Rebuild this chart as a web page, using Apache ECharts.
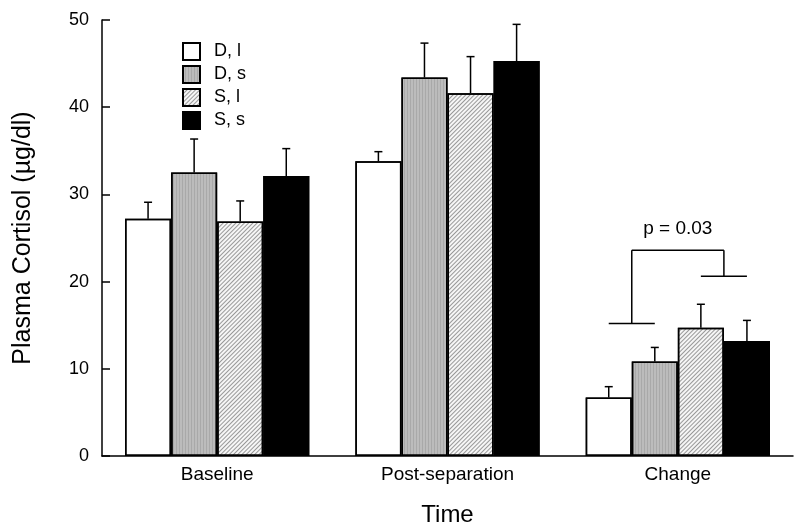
<!DOCTYPE html>
<html>
<head>
<meta charset="utf-8">
<script src="https://cdn.jsdelivr.net/npm/echarts@6/dist/echarts.min.js"></script>
<style>
html,body{margin:0;padding:0;background:#fff;}
#chart{width:800px;height:532px;}
</style>
</head>
<body>
<div id="chart"></div>
<script>
// ---- data ----
var categories = ['Baseline', 'Post-separation', 'Change'];
var seriesNames = ['D, l', 'D, s', 'S, l', 'S, s'];
var meanDl = [27.2, 33.8, 6.7];
var meanDs = [32.5, 43.4, 10.85];
var meanSl = [26.9, 41.6, 14.7];
var meanSs = [32.1, 45.3, 13.2];
var errDl = [1.9, 1.1, 1.25];
var errDs = [3.85, 3.95, 1.6];
var errSl = [2.35, 4.2, 2.7];
var errSs = [3.15, 4.2, 2.35];
var yTicks = [0, 10, 20, 30, 40, 50];
// significance bracket on the "Change" group
var bracketCategory = 2;
var bracketLeftLevel = 15.2;
var bracketTopLevel = 23.6;
var bracketRightLevel = 20.6;
var bracketLabel = 'p = 0.03';
var bracketLabelLevel = 26.1;

var means = [meanDl, meanDs, meanSl, meanSs];
var errs = [errDl, errDs, errSl, errSs];

var FONT = '"Liberation Sans", Arial, sans-serif';
var nSeries = seriesNames.length;
var catFill = 0.8; // bars cover 80% of category band

var styles = [
  { color: '#ffffff', decal: { symbol: 'none' } },
  { color: '#bcbcbc', decal: { symbol: 'rect', symbolSize: 1, dashArrayX: [1, 0], dashArrayY: [1, 2], rotation: Math.PI / 2, color: 'rgba(0,0,0,0.1)' } },
  { color: '#f6f6f6', decal: { symbol: 'rect', symbolSize: 1, dashArrayX: [1, 0], dashArrayY: [1, 2], rotation: -Math.PI / 4, color: 'rgba(0,0,0,0.38)' } },
  { color: '#000000', decal: { symbol: 'none' } }
];

var series = [];
seriesNames.forEach(function (name, i) {
  series.push({
    name: name,
    type: 'bar',
    data: means[i],
    barGap: '0%',
    barCategoryGap: '20%',
    itemStyle: {
      color: styles[i].color,
      borderColor: '#000',
      borderWidth: 1.5,
      decal: styles[i].decal
    },
    emphasis: { disabled: true },
    z: 2
  });
});

function offsetFor(api, idx) {
  var band = api.size([1, 0])[0];
  var bw = band * catFill / nSeries;
  return { bw: bw, off: (idx - (nSeries - 1) / 2) * bw };
}

seriesNames.forEach(function (name, i) {
  var d = means[i].map(function (m, k) { return [k, m, errs[i][k]]; });
  series.push({
    type: 'custom',
    data: d,
    encode: { x: 0, y: 1 },
    z: 5,
    silent: true,
    renderItem: function (params, api) {
      var c = api.coord([api.value(0), api.value(1)]);
      var t = api.coord([api.value(0), api.value(1) + api.value(2)]);
      var o = offsetFor(api, i);
      var x = c[0] + o.off;
      var st = { stroke: '#000', lineWidth: 1.5 };
      return {
        type: 'group',
        children: [
          { type: 'line', shape: { x1: x, y1: c[1], x2: x, y2: t[1] }, style: st },
          { type: 'line', shape: { x1: x - 4, y1: t[1], x2: x + 4, y2: t[1] }, style: st }
        ]
      };
    }
  });
});

series.push({
  type: 'custom',
  data: [[bracketCategory, bracketLeftLevel, bracketTopLevel, bracketRightLevel, bracketLabelLevel]],
  encode: { x: 0, y: [1, 2, 3, 4] },
  z: 5,
  silent: true,
  renderItem: function (params, api) {
    var cat = api.value(0);
    var cx = api.coord([cat, 0])[0];
    var centers = [0, 1, 2, 3].map(function (j) { return cx + offsetFor(api, j).off; });
    var yL = api.coord([cat, api.value(1)])[1];
    var yT = api.coord([cat, api.value(2)])[1];
    var yR = api.coord([cat, api.value(3)])[1];
    var yP = api.coord([cat, api.value(4)])[1];
    var m1 = (centers[0] + centers[1]) / 2;
    var m2 = (centers[2] + centers[3]) / 2;
    var st = { stroke: '#000', lineWidth: 1.5 };
    return {
      type: 'group',
      children: [
        { type: 'line', shape: { x1: centers[0], y1: yL, x2: centers[1], y2: yL }, style: st },
        { type: 'line', shape: { x1: m1, y1: yL, x2: m1, y2: yT }, style: st },
        { type: 'line', shape: { x1: m1, y1: yT, x2: m2, y2: yT }, style: st },
        { type: 'line', shape: { x1: m2, y1: yT, x2: m2, y2: yR }, style: st },
        { type: 'line', shape: { x1: centers[2], y1: yR, x2: centers[3], y2: yR }, style: st },
        { type: 'text', x: (m1 + m2) / 2, y: yP, style: { text: bracketLabel, fill: '#000', font: '19px ' + FONT, textAlign: 'center', textVerticalAlign: 'middle' } }
      ]
    };
  }
});

var chart = echarts.init(document.getElementById('chart'), null, { renderer: 'canvas' });
chart.setOption({
  animation: false,
  backgroundColor: '#fff',
  aria: { enabled: true, decal: { show: true } },
  grid: { left: 102, right: 7, top: 20, bottom: 76, containLabel: false },
  legend: {
    data: seriesNames,
    orient: 'vertical',
    left: 177,
    top: 37,
    itemWidth: 17,
    itemHeight: 17,
    itemGap: 4,
    icon: 'rect',
    selectedMode: false,
    textStyle: { fontFamily: FONT, fontSize: 18, color: '#000', padding: [0, 0, 0, 9] }
  },
  xAxis: {
    type: 'category',
    data: categories,
    name: 'Time',
    nameLocation: 'middle',
    nameGap: 47,
    nameTextStyle: { fontFamily: FONT, fontSize: 24, color: '#000' },
    axisLine: { lineStyle: { color: '#000', width: 1.5 } },
    axisTick: { inside: true, length: 10, lineStyle: { color: '#000', width: 1.5 } },
    axisLabel: { fontFamily: FONT, fontSize: 19, color: '#000', margin: 9 },
    splitLine: { show: false }
  },
  yAxis: {
    type: 'value',
    min: yTicks[0],
    max: yTicks[yTicks.length - 1],
    interval: yTicks[1] - yTicks[0],
    name: 'Plasma Cortisol (µg/dl)',
    nameLocation: 'middle',
    nameGap: 66,
    nameTextStyle: { fontFamily: FONT, fontSize: 25, color: '#000' },
    axisLine: { show: true, lineStyle: { color: '#000', width: 1.5 } },
    axisTick: { show: true, inside: true, length: 8, lineStyle: { color: '#000', width: 1.5 } },
    axisLabel: { fontFamily: FONT, fontSize: 18, color: '#000', margin: 13 },
    splitLine: { show: false }
  },
  series: series
});
</script>
</body>
</html>
